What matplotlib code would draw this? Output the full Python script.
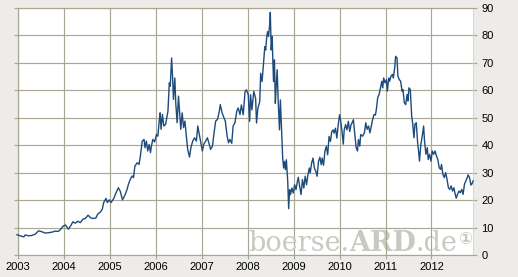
#!/usr/bin/env python3
"""Price chart 2003-2012, boerse.ARD.de style."""
import matplotlib
matplotlib.use("Agg")
import matplotlib.pyplot as plt

# data (decimal years, price)
years_a = [2002.97, 2003.04, 2003.12, 2003.15, 2003.22, 2003.29, 2003.37, 2003.44,
           2003.51, 2003.58, 2003.65, 2003.73, 2003.80, 2003.87, 2003.91, 2003.98,
           2004.03, 2004.09, 2004.14, 2004.19, 2004.24, 2004.30, 2004.35, 2004.41,
           2004.46, 2004.52, 2004.58, 2004.63, 2004.69, 2004.73, 2004.79, 2004.83,
           2004.86, 2004.91, 2004.94, 2004.98, 2005.02, 2005.08, 2005.13, 2005.18,
           2005.22, 2005.27]
values_a = [7.4, 7.0, 6.6, 7.3, 7.0, 7.1, 7.6, 8.8, 8.5, 8.0, 8.1, 8.3, 8.7, 8.6,
            9.1, 10.6, 10.9, 9.4, 10.6, 12.1, 11.6, 12.3, 11.8, 13.1, 13.3, 14.5,
            13.5, 13.3, 13.5, 14.9, 15.7, 16.7, 19.1, 20.6, 19.1, 20.1, 19.1, 20.6,
            22.7, 24.5, 23.3, 20.1]

years_b = [2005.33, 2005.37, 2005.40, 2005.44, 2005.48, 2005.51, 2005.54, 2005.59,
           2005.63, 2005.66, 2005.70, 2005.74, 2005.76, 2005.79, 2005.82, 2005.85,
           2005.88, 2005.90, 2005.93, 2005.97, 2006.01, 2006.04, 2006.07, 2006.09,
           2006.11, 2006.14, 2006.17, 2006.21, 2006.26, 2006.29, 2006.31, 2006.34,
           2006.36, 2006.38, 2006.41, 2006.43, 2006.46, 2006.49, 2006.52, 2006.54,
           2006.57, 2006.60, 2006.63, 2006.65, 2006.69, 2006.73, 2006.76, 2006.80,
           2006.84, 2006.88, 2006.91, 2006.95, 2006.99, 2007.01, 2007.04, 2007.08,
           2007.12, 2007.15, 2007.19, 2007.23, 2007.26, 2007.30, 2007.34, 2007.38,
           2007.40, 2007.44, 2007.48, 2007.51, 2007.55, 2007.58, 2007.61, 2007.65,
           2007.68, 2007.72, 2007.76, 2007.79, 2007.83]
values_b = [22.1, 23.9, 25.8, 27.6, 28.8, 28.2, 32.4, 33.6, 33.0, 36.1, 41.5, 42.1,
            39.1, 41.5, 37.9, 40.3, 37.3, 39.7, 42.1, 41.2, 43.9, 43.3, 48.8, 51.8,
            45.8, 51.2, 47.0, 47.6, 52.4, 62.7, 61.5, 71.8, 65.2, 56.7, 64.5, 55.5,
            48.2, 57.9, 50.6, 45.8, 51.8, 46.4, 48.8, 45.2, 38.5, 35.7, 39.1, 41.5,
            42.7, 41.5, 47.0, 43.3, 39.7, 37.9, 40.3, 41.5, 42.7, 40.9, 38.5, 39.7,
            43.9, 48.8, 49.4, 52.4, 54.8, 51.8, 50.0, 48.8, 43.3, 40.9, 42.1, 40.7,
            47.0, 48.2, 52.4, 53.6, 51.2]

years_c = [2007.86, 2007.90, 2007.94, 2007.97, 2008.01, 2008.04, 2008.06, 2008.09,
           2008.13, 2008.17, 2008.19, 2008.22, 2008.26, 2008.28, 2008.31, 2008.34,
           2008.37, 2008.39, 2008.41, 2008.43, 2008.45, 2008.48, 2008.49, 2008.51,
           2008.53, 2008.56, 2008.58, 2008.60, 2008.62, 2008.64, 2008.66, 2008.69,
           2008.71, 2008.74, 2008.76, 2008.78, 2008.80, 2008.82, 2008.84, 2008.87,
           2008.89, 2008.91, 2008.93, 2008.96, 2008.99, 2009.02, 2009.05, 2009.08,
           2009.10, 2009.13, 2009.16, 2009.19, 2009.22, 2009.25, 2009.28, 2009.31,
           2009.34, 2009.36, 2009.39, 2009.42, 2009.45, 2009.48, 2009.51, 2009.54,
           2009.57, 2009.60, 2009.62, 2009.65, 2009.68, 2009.71, 2009.74, 2009.77,
           2009.80, 2009.83, 2009.86, 2009.88, 2009.91, 2009.94, 2009.97, 2010.00,
           2010.03, 2010.06, 2010.08, 2010.10, 2010.13, 2010.16, 2010.19, 2010.22,
           2010.25, 2010.27, 2010.30]
values_c = [54.7, 51.1, 59.6, 60.2, 58.4, 48.7, 58.4, 52.9, 59.6, 57.1, 48.1, 53.5,
            55.9, 66.2, 63.2, 69.3, 75.9, 74.7, 79.0, 81.4, 79.6, 84.4, 88.4, 74.7,
            79.6, 63.2, 71.1, 55.3, 62.0, 67.5, 57.1, 45.6, 56.5, 43.8, 35.3, 31.7,
            34.1, 31.1, 34.7, 26.8, 16.9, 23.8, 22.0, 24.4, 22.6, 25.6, 23.8, 26.8,
            28.3, 25.0, 22.0, 27.5, 24.4, 28.7, 25.6, 29.3, 31.7, 29.9, 33.5, 35.3,
            31.7, 30.5, 28.7, 34.1, 35.6, 32.9, 35.3, 32.7, 37.8, 39.6, 36.5, 43.2,
            41.4, 45.0, 45.6, 44.4, 46.2, 42.6, 47.5, 51.1, 48.1, 43.8, 40.4, 45.6,
            47.5, 45.6, 48.7, 45.0, 47.5, 48.1, 49.3]

years_d = [2010.36, 2010.39, 2010.41, 2010.44, 2010.46, 2010.50, 2010.54, 2010.57,
           2010.60, 2010.63, 2010.66, 2010.69, 2010.72, 2010.75, 2010.78, 2010.80,
           2010.83, 2010.86, 2010.89, 2010.92, 2010.94, 2010.96, 2010.99, 2011.02,
           2011.04, 2011.07, 2011.09, 2011.12, 2011.15, 2011.17, 2011.20, 2011.22,
           2011.25, 2011.27, 2011.30, 2011.33, 2011.36, 2011.38, 2011.41, 2011.44,
           2011.47, 2011.49, 2011.51, 2011.54, 2011.57, 2011.59, 2011.62, 2011.64,
           2011.67, 2011.70, 2011.72, 2011.74, 2011.77, 2011.80, 2011.83, 2011.85,
           2011.88, 2011.91, 2011.93, 2011.96, 2011.99, 2012.02, 2012.05, 2012.08,
           2012.11, 2012.14, 2012.17, 2012.20, 2012.22, 2012.25, 2012.28, 2012.31,
           2012.34, 2012.37, 2012.40, 2012.43, 2012.46, 2012.49, 2012.51, 2012.54,
           2012.57, 2012.60, 2012.63, 2012.66, 2012.69, 2012.72, 2012.75, 2012.78,
           2012.80, 2012.83, 2012.86, 2012.88, 2012.91]
values_d = [39.1, 37.9, 42.1, 39.7, 43.9, 43.3, 44.5, 48.2, 45.8, 47.0, 44.5, 47.0,
            49.4, 51.2, 51.0, 53.0, 57.3, 58.5, 60.9, 63.3, 60.9, 64.5, 62.7, 63.9,
            59.7, 64.5, 63.3, 65.2, 65.8, 64.5, 68.2, 72.4, 71.8, 65.2, 63.9, 63.3,
            59.7, 60.3, 55.5, 54.8, 58.5, 56.1, 60.9, 60.3, 50.6, 48.2, 42.7, 47.6,
            48.2, 40.9, 37.9, 34.2, 40.3, 43.3, 47.0, 41.5, 36.7, 39.1, 34.8, 36.7,
            34.2, 37.9, 36.7, 37.9, 36.1, 34.8, 31.8, 31.2, 33.0, 29.4, 28.2, 30.0,
            27.6, 24.5, 23.9, 25.2, 23.3, 24.5, 22.7, 20.7, 22.1, 23.3, 22.7, 23.9,
            22.1, 25.8, 27.0, 28.2, 29.2, 28.2, 25.5, 25.8, 27.0]

years = years_a + years_b + years_c + years_d
values = values_a + values_b + values_c + values_d

tick_years = list(range(2003, 2013))
y_ticks = list(range(0, 91, 10))

bg = "#edece8"
grid_c = "#a9a793"
line_c = "#1d4b7c"
mark_c = "#c9c9c3"

plt.rcParams["font.family"] = ["Liberation Sans", "DejaVu Sans"]

W, H = 518, 277
fig = plt.figure(figsize=(W / 100, H / 100), dpi=100, facecolor=bg)
ax = fig.add_axes([18 / W, (H - 255) / H, (473 - 18) / W, (255 - 8) / H])
ax.set_facecolor("white")

ax.plot(years, values, color=line_c, linewidth=1.0, zorder=3, clip_on=False)

ax.set_xlim(2002.9935, 2012.906)
ax.set_ylim(0, 90)
ax.set_xticks(tick_years)
ax.set_xticklabels([str(y) for y in tick_years])
ax.set_yticks(y_ticks)

ax.grid(True, color=grid_c, linewidth=0.85, zorder=1)
ax.set_axisbelow(True)
for side in ["left", "top", "bottom"]:
    ax.spines[side].set_color(grid_c)
    ax.spines[side].set_linewidth(0.85)
ax.spines["right"].set_color("#d2d1ca")
ax.spines["right"].set_linewidth(0.6)

ax.tick_params(axis="x", length=3, width=0.85, color=grid_c, pad=2,
               labelsize=8, labelcolor="black")
ax.tick_params(axis="y", left=True, right=True, labelleft=False, labelright=True,
               length=3, width=0.85, color=grid_c, pad=3,
               labelsize=8, labelcolor="black")

# watermark, pieces chained left to right
t1 = fig.text(248 / W, (H - 251) / H, "boerse.", fontsize=19.5,
              family="DejaVu Serif", color=mark_c, va="baseline", zorder=0.5)
t2 = ax.annotate("ARD", xy=(1, 0), xycoords=t1, va="bottom", fontsize=19.5,
                 family="DejaVu Serif", weight="bold", color=mark_c, zorder=0.5)
t3 = ax.annotate(".de", xy=(1, 0), xycoords=t2, va="bottom", fontsize=19.5,
                 family="DejaVu Serif", color=mark_c, zorder=0.5)
ax.annotate("\u2460", xy=(1, 1), xycoords=t3, va="top", ha="left", fontsize=12,
            family="DejaVu Sans", weight="bold", color=mark_c, zorder=0.5)

plt.savefig("out.png", dpi=100, facecolor=bg)
